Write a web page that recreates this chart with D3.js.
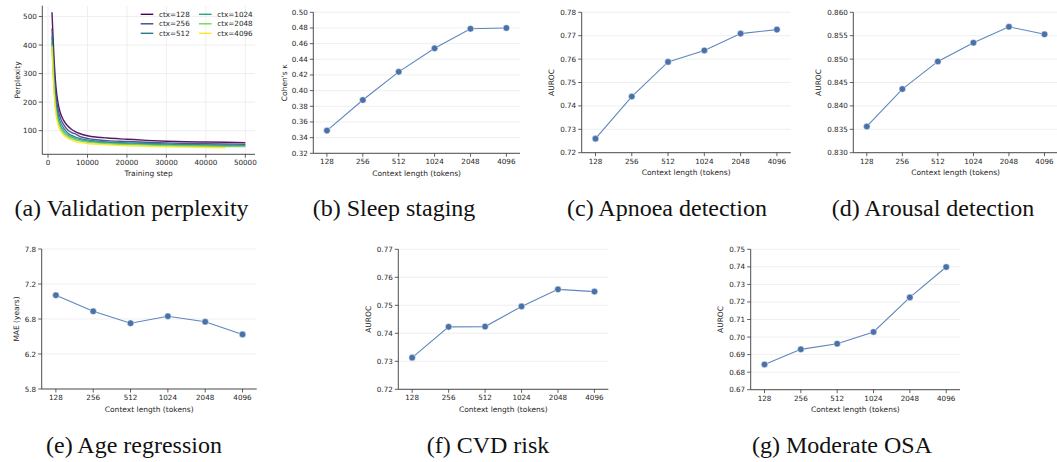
<!DOCTYPE html>
<html>
<head>
<meta charset="utf-8">
<script src="https://cdn.jsdelivr.net/npm/d3@7"></script>
<style>
  html, body { margin: 0; padding: 0; background: #fff; }
  svg { display: block; }
  .tick-text { font-family: "DejaVu Sans", sans-serif; font-size: 7.2px; fill: #262626; }
  .axis-title { font-family: "DejaVu Sans", sans-serif; font-size: 7.5px; fill: #262626; }
  .caption { font-family: "Liberation Serif", "Times New Roman", serif; font-size: 24px; fill: #111; }
</style>
</head>
<body>
<svg id="fig" width="1057" height="462"></svg>
<script>
// ---- data ----
const contexts = ["128", "256", "512", "1024", "2048", "4096"];

// validation perplexity curves per context length
const steps = [1000, 1500, 2000, 2500, 3000, 4000, 5000, 6000, 7000, 8000, 10000, 12500, 15000, 20000, 25000, 30000, 35000, 40000, 45000, 50000];
const ppl128  = [515, 360, 255, 200, 168, 135, 116, 104, 96, 90, 82, 77, 74, 70, 66, 63, 61, 60, 59, 58];
const ppl256  = [458, 320, 225, 178, 150, 120, 102, 93, 88, 80, 73, 68, 65, 62, 59, 57, 55, 54, 53, 52];
const ppl512  = [430, 295, 205, 160, 135, 108, 92, 83, 77, 73, 67, 63, 60, 57, 55, 53, 51, 50, 49, 49];
const ppl1024 = [410, 270, 185, 145, 122, 98, 85, 77, 72, 68, 63, 59, 57, 54, 52, 50, 48, 47, 46, 46];
const ppl2048 = [400, 255, 170, 133, 112, 90, 79, 72, 67, 64, 59, 56, 54, 51, 49, 47, 46, 45, 44, 44];
const ppl4096 = [395, 245, 160, 124, 104, 84, 73, 66, 62, 59, 55, 52, 50, 47, 45, 43, 42, 41, 40];
const pplSeries = [ppl128, ppl256, ppl512, ppl1024, ppl2048, ppl4096];
const pplLabels = ["ctx=128", "ctx=256", "ctx=512", "ctx=1024", "ctx=2048", "ctx=4096"];
const pplColors = ["#440154", "#414487", "#2a788e", "#22a884", "#7ad151", "#fde725"];
const pplXTicks = [0, 10000, 20000, 30000, 40000, 50000];
const pplYTicks = [100, 200, 300, 400, 500];

// downstream metrics per context length
const sleepKappa = [0.349, 0.388, 0.424, 0.454, 0.479, 0.480];
const apnoeaAuroc = [0.726, 0.744, 0.7588, 0.7637, 0.7709, 0.7726];
const arousalAuroc = [0.8356, 0.8436, 0.8495, 0.8535, 0.8569, 0.8553];
const ageMae = [7.09, 6.86, 6.69, 6.79, 6.71, 6.53];
const cvdAuroc = [0.7313, 0.7423, 0.7424, 0.7496, 0.7557, 0.7549];
const osaAuroc = [0.6844, 0.6930, 0.6962, 0.7029, 0.7226, 0.7399];

const sleepTicks = [0.32, 0.34, 0.36, 0.38, 0.40, 0.42, 0.44, 0.46, 0.48, 0.50];
const apnoeaTicks = [0.72, 0.73, 0.74, 0.75, 0.76, 0.77, 0.78];
const arousalTicks = [0.830, 0.835, 0.840, 0.845, 0.850, 0.855, 0.860];
const ageTicks = [5.75, 6.25, 6.75, 7.25, 7.75];
const ageTickLabels = ["5.8", "6.2", "6.8", "7.2", "7.8"];
const cvdTicks = [0.72, 0.73, 0.74, 0.75, 0.76, 0.77];
const osaTicks = [0.67, 0.68, 0.69, 0.70, 0.71, 0.72, 0.73, 0.74, 0.75];

const captions = ["(a) Validation perplexity", "(b) Sleep staging", "(c) Apnoea detection", "(d) Arousal detection",
                  "(e) Age regression", "(f) CVD risk", "(g) Moderate OSA"];

// ---- drawing ----
const svg = d3.select("#fig");
const AXIS = "#3a3a3a", GRID = "#ebebeb", TICK = 3.5;
const LINE = "#5f86bd", DOT = "#4a72a8";

function axesFrame(g, x0, x1, y0, y1) {
  g.append("line").attr("x1", x0).attr("x2", x0).attr("y1", y0).attr("y2", y1)
    .attr("stroke", AXIS).attr("stroke-width", 0.9);
  g.append("line").attr("x1", x0).attr("x2", x1).attr("y1", y1).attr("y2", y1)
    .attr("stroke", AXIS).attr("stroke-width", 0.9);
}

function yAxis(g, y, ticks, fmt, x0, x1, grid) {
  ticks.forEach((t, i) => {
    const py = y(t);
    if (grid) g.append("line").attr("x1", x0).attr("x2", x1).attr("y1", py).attr("y2", py)
      .attr("stroke", GRID).attr("stroke-width", 0.8);
    g.append("line").attr("x1", x0 - TICK).attr("x2", x0).attr("y1", py).attr("y2", py)
      .attr("stroke", AXIS).attr("stroke-width", 0.8);
    g.append("text").attr("class", "tick-text").attr("x", x0 - TICK - 2).attr("y", py)
      .attr("text-anchor", "end").attr("dominant-baseline", "central").text(fmt(t, i));
  });
}

function yTitle(g, text, x, yMid) {
  g.append("text").attr("class", "axis-title")
    .attr("transform", `translate(${x},${yMid}) rotate(-90)`)
    .attr("text-anchor", "middle").attr("dominant-baseline", "central").text(text);
}

function contextPanel(p) {
  const g = svg.append("g");
  const x = d3.scalePoint().domain(contexts).range([p.left, p.right]).padding(0.38);
  const y = d3.scaleLinear().domain([p.ticks[0], p.ticks[p.ticks.length - 1]]).range([p.bottom, p.top]);
  yAxis(g, y, p.ticks, p.fmt, p.left, p.right, true);
  axesFrame(g, p.left, p.right, p.top, p.bottom);
  contexts.forEach(c => {
    g.append("line").attr("x1", x(c)).attr("x2", x(c)).attr("y1", p.bottom).attr("y2", p.bottom + TICK)
      .attr("stroke", AXIS).attr("stroke-width", 0.8);
    g.append("text").attr("class", "tick-text").attr("x", x(c)).attr("y", p.bottom + TICK + 2)
      .attr("text-anchor", "middle").attr("dominant-baseline", "hanging").text(c);
  });
  g.append("text").attr("class", "axis-title").attr("x", (p.left + p.right) / 2).attr("y", p.bottom + 20)
    .attr("text-anchor", "middle").attr("dominant-baseline", "central").text("Context length (tokens)");
  yTitle(g, p.yTitle, p.titleX, (p.top + p.bottom) / 2);
  const line = d3.line().x((d, i) => x(contexts[i])).y(d => y(d));
  g.append("path").datum(p.values).attr("d", line).attr("fill", "none")
    .attr("stroke", LINE).attr("stroke-width", 1.1);
  g.selectAll("circle.pt").data(p.values).enter().append("circle")
    .attr("cx", (d, i) => x(contexts[i])).attr("cy", d => y(d)).attr("r", 3.3)
    .attr("fill", DOT).attr("stroke", "#fff").attr("stroke-width", 0.5);
}

// (a) perplexity curves
(function () {
  const L = 42.3, R = 255, T = 5.7, B = 154.3;
  const g = svg.append("g");
  const x = d3.scaleLinear().domain([-1450, 52450]).range([L, R]);
  const y = d3.scaleLinear().domain([17, 538]).range([B, T]);
  pplXTicks.forEach(t => {
    g.append("line").attr("x1", x(t)).attr("x2", x(t)).attr("y1", T).attr("y2", B)
      .attr("stroke", GRID).attr("stroke-width", 0.8);
  });
  yAxis(g, y, pplYTicks, t => String(t), L, R, true);
  pplXTicks.forEach(t => {
    g.append("line").attr("x1", x(t)).attr("x2", x(t)).attr("y1", B).attr("y2", B + TICK)
      .attr("stroke", AXIS).attr("stroke-width", 0.8);
    g.append("text").attr("class", "tick-text").attr("x", x(t)).attr("y", B + TICK + 2)
      .attr("text-anchor", "middle").attr("dominant-baseline", "hanging").text(String(t));
  });
  axesFrame(g, L, R, T, B);
  g.append("text").attr("class", "axis-title").attr("x", (L + R) / 2).attr("y", B + 19)
    .attr("text-anchor", "middle").attr("dominant-baseline", "central").text("Training step");
  yTitle(g, "Perplexity", 17, (T + B) / 2);
  const line = d3.line().x((d, i) => x(steps[i])).y(d => y(d)).curve(d3.curveMonotoneX);
  pplSeries.forEach((s, k) => {
    g.append("path").datum(s).attr("d", line).attr("fill", "none")
      .attr("stroke", pplColors[k]).attr("stroke-width", 1.4).attr("stroke-opacity", 0.9);
  });
  // legend, two columns
  pplLabels.forEach((lab, k) => {
    const col = Math.floor(k / 3), row = k % 3;
    const lx = 140.7 + col * 58.3, ly = 14.3 + row * 9.5;
    g.append("line").attr("x1", lx).attr("x2", lx + 12.6).attr("y1", ly).attr("y2", ly)
      .attr("stroke", pplColors[k]).attr("stroke-width", 1.4);
    g.append("text").attr("class", "tick-text").attr("x", lx + 18.3).attr("y", ly)
      .attr("dominant-baseline", "central").text(lab);
  });
})();

const f2 = t => t.toFixed(2), f3 = t => t.toFixed(3);
contextPanel({ left: 313.3, right: 520, top: 12.3, bottom: 153.3, ticks: sleepTicks, fmt: f2, values: sleepKappa, yTitle: "Cohen's κ", titleX: 284 });
contextPanel({ left: 581.7, right: 790.7, top: 12.3, bottom: 152.7, ticks: apnoeaTicks, fmt: f2, values: apnoeaAuroc, yTitle: "AUROC", titleX: 551.7 });
contextPanel({ left: 853.3, right: 1058, top: 12.3, bottom: 152.7, ticks: arousalTicks, fmt: f3, values: arousalAuroc, yTitle: "AUROC", titleX: 818.3 });
contextPanel({ left: 41.7, right: 256.7, top: 249, bottom: 389, ticks: ageTicks, fmt: (t, i) => ageTickLabels[i], values: ageMae, yTitle: "MAE (years)", titleX: 16.7 });
contextPanel({ left: 398.3, right: 608.3, top: 249.3, bottom: 389.3, ticks: cvdTicks, fmt: f2, values: cvdAuroc, yTitle: "AUROC", titleX: 368.3 });
contextPanel({ left: 750.7, right: 960, top: 249.3, bottom: 389.7, ticks: osaTicks, fmt: f2, values: osaAuroc, yTitle: "AUROC", titleX: 720.7 });

// sub-figure captions
const capPos = [[131.5, 216], [394, 216], [667, 216], [933, 216], [134, 453], [488, 453], [842, 453]];
captions.forEach((c, i) => {
  svg.append("text").attr("class", "caption").attr("x", capPos[i][0]).attr("y", capPos[i][1])
    .attr("text-anchor", "middle").text(c);
});
</script>
</body>
</html>
